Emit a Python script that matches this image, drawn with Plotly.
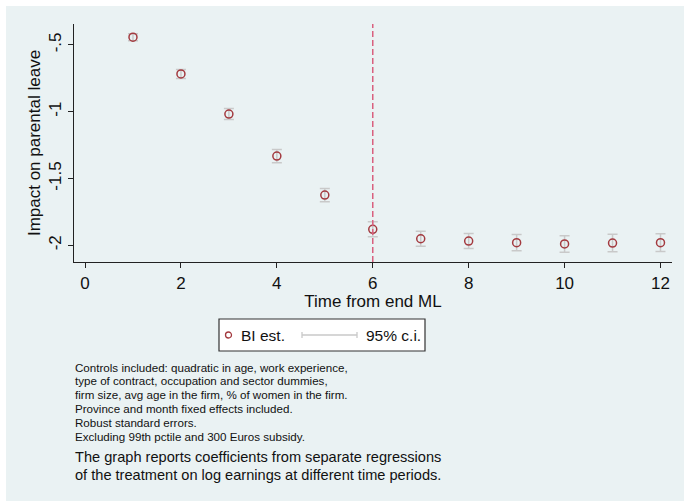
import plotly.graph_objects as go

# ---- data ----
time_from_end = [1, 2, 3, 4, 5, 6, 7, 8, 9, 10, 11, 12]
bi_est = [-0.442, -0.717, -1.017, -1.332, -1.624, -1.880, -1.951, -1.968, -1.980, -1.990, -1.983, -1.980]
ci_half = [0.026, 0.034, 0.041, 0.049, 0.050, 0.056, 0.056, 0.056, 0.061, 0.062, 0.065, 0.066]
x_ticks = [0, 2, 4, 6, 8, 10, 12]
y_ticks = [-0.5, -1, -1.5, -2]
y_ticktext = ["-.5", "-1", "-1.5", "-2"]
vline_x = 6

notes = [
    "Controls included: quadratic in age, work experience,",
    "type of contract, occupation and sector dummies,",
    "firm size, avg age in the firm, % of women in the firm.",
    "Province and month fixed effects included.",
    "Robust standard errors.",
    "Excluding 99th pctile and 300 Euros subsidy.",
]
caption = [
    "The graph reports coefficients from separate regressions",
    "of the treatment on log earnings at different time periods.",
]

W, H = 684, 501
L, R, T, B = 74, 672, 24, 262
BG = "#eaf2f3"
MARK = "#a33a3f"
CI = "#c9c9c9"
FONT = "Liberation Sans"


def px(x):
    return (x - L) / (R - L)


def py(y):
    return (B - y) / (B - T)


fig = go.Figure()
fig.add_trace(go.Scatter(
    x=time_from_end, y=bi_est, mode="markers",
    marker=dict(symbol="circle-open", size=8, color=MARK, line=dict(width=1.5, color=MARK)),
    error_y=dict(type="data", array=ci_half, color=CI, thickness=1.5, width=5),
    showlegend=False,
))

shapes = [
    dict(type="rect", xref="paper", yref="paper", x0=px(6), x1=px(W + 2), y0=py(H + 2), y1=py(6),
         fillcolor=BG, line=dict(width=0), layer="below"),
    dict(type="line", xref="x", yref="paper", x0=vline_x, x1=vline_x, y0=0, y1=1,
         line=dict(color="#d9607f", width=1.5, dash="6px,3px")),
    dict(type="rect", xref="paper", yref="paper", x0=px(219), x1=px(425), y0=py(351), y1=py(319),
         fillcolor="white", line=dict(color="#333333", width=1.2)),
    dict(type="circle", xref="paper", yref="paper", x0=px(225.5), x1=px(231.5), y0=py(338), y1=py(332),
         line=dict(color=MARK, width=1.3)),
    dict(type="line", xref="paper", yref="paper", x0=px(302), x1=px(357), y0=py(335), y1=py(335),
         line=dict(color=CI, width=1.3)),
    dict(type="line", xref="paper", yref="paper", x0=px(302), x1=px(302), y0=py(332), y1=py(338),
         line=dict(color=CI, width=1.3)),
    dict(type="line", xref="paper", yref="paper", x0=px(357), x1=px(357), y0=py(332), y1=py(338),
         line=dict(color=CI, width=1.3)),
]

annotations = [
    dict(text="BI est.", xref="paper", yref="paper", x=px(239), y=py(335), xanchor="left", yanchor="middle",
         showarrow=False, font=dict(family=FONT, size=15.5, color="#111111")),
    dict(text="95% c.i.", xref="paper", yref="paper", x=px(364), y=py(335), xanchor="left", yanchor="middle",
         showarrow=False, font=dict(family=FONT, size=15.5, color="#111111")),
]
for i, line in enumerate(notes):
    annotations.append(dict(text=line, xref="paper", yref="paper", x=px(73), y=py(367 + i * 13.8),
                            xanchor="left", yanchor="middle", showarrow=False,
                            font=dict(family=FONT, size=11.6, color="#111111")))
for i, line in enumerate(caption):
    annotations.append(dict(text=line, xref="paper", yref="paper", x=px(73), y=py(457 + i * 18),
                            xanchor="left", yanchor="middle", showarrow=False,
                            font=dict(family=FONT, size=14.6, color="#111111")))

fig.update_layout(
    width=W, height=H,
    margin=dict(l=L, r=W - R, t=T, b=H - B, pad=0),
    paper_bgcolor="white", plot_bgcolor="white",
    font=dict(family=FONT, size=17, color="#111111"),
    shapes=shapes, annotations=annotations,
    showlegend=False,
)
fig.update_xaxes(
    range=[-0.23, 12.24], tickvals=x_ticks, showgrid=False, zeroline=False,
    showline=True, linecolor="#222222", linewidth=1.2,
    ticks="outside", ticklen=5, tickcolor="#222222", tickwidth=1,
    tickfont=dict(size=17), title=dict(text="Time from end ML", font=dict(size=17), standoff=1),
)
fig.update_yaxes(
    range=[-2.125, -0.343], tickvals=y_ticks, ticktext=y_ticktext, tickangle=-90,
    showgrid=True, gridcolor=BG, gridwidth=1.5, zeroline=False,
    showline=True, linecolor="#222222", linewidth=1.2,
    ticks="outside", ticklen=5, tickcolor="#222222", tickwidth=1,
    tickfont=dict(size=17), title=dict(text="Impact on parental leave", font=dict(size=17), standoff=1),
)

fig.write_html("out.html")
